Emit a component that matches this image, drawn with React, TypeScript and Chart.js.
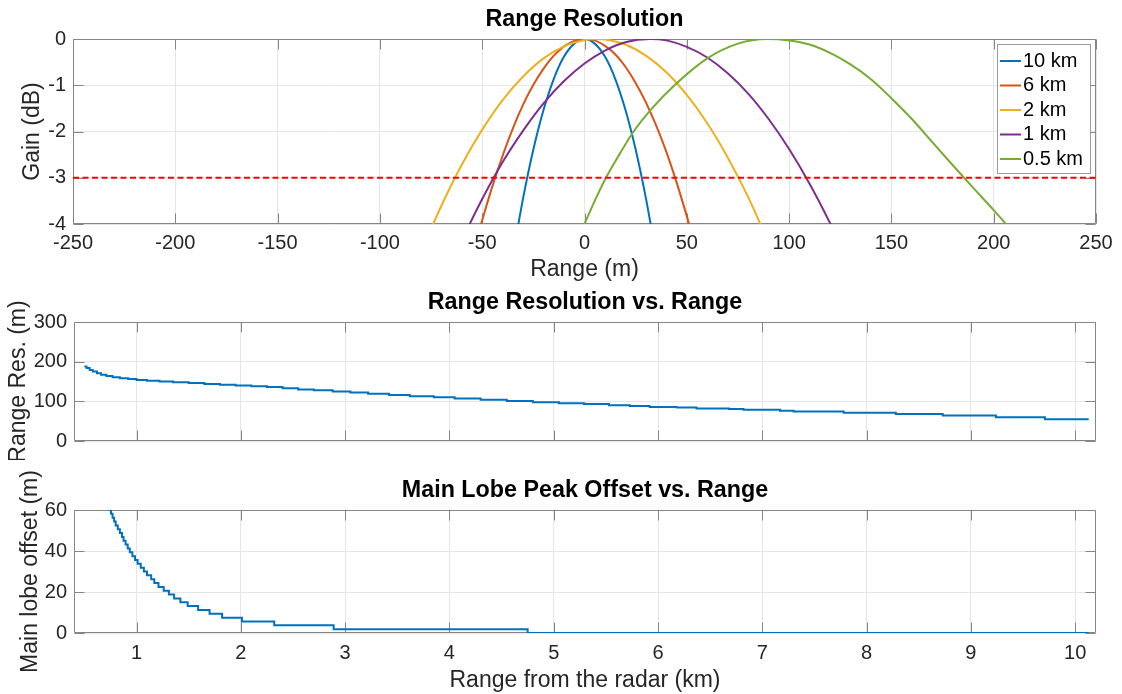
import React, { useEffect, useRef } from 'react';
import { Chart, registerables } from 'chart.js';

Chart.register(...registerables);

const FONT_FAMILY = '"Liberation Sans", Arial, Helvetica, sans-serif';
const TEXT_COLOR = '#262626';
const BOX_COLOR = '#858585';
const GRID_COLOR = '#e6e6e6';
const TICK_LEN = 10;
const PAGE_W = 1122;
const PAGE_H = 694;
const TITLE_SIZE = 23.3;
const LABEL_SIZE = 23;
const TICK_SIZE = 20;
const LEGEND_SIZE = 20;
const LH = 1.2;

Chart.defaults.font.family = FONT_FAMILY;
Chart.defaults.color = TEXT_COLOR;

// ---------- Range Resolution: main-lobe gain vs range offset ----------
const gainTicks = [-4, -3, -2, -1, 0];
const offsetTicks = [-250, -200, -150, -100, -50, 0, 50, 100, 150, 200, 250];
const seriesLabels = ['10 km', '6 km', '2 km', '1 km', '0.5 km'];
const seriesColors = ['#0072bd', '#d95319', '#edb120', '#7e2f8e', '#77ac30'];

const offset10km = [-33, -30, -25, -20, -15, -10, -5, 0, 5, 10, 15, 20, 25, 30, 33];
const gain10km = [-4.17, -3.44, -2.39, -1.53, -0.86, -0.38, -0.1, 0, -0.1, -0.38, -0.86, -1.53, -2.39, -3.44, -4.17];

const offset6km = [-52, -50, -45, -40, -35, -30, -25, -20, -15, -10, -5, 0, 5, 10, 15, 20, 25, 30, 35, 40, 45, 50, 52];
const gain6km = [-4.24, -3.92, -3.18, -2.52, -1.93, -1.42, -0.99, -0.64, -0.36, -0.16, -0.04, 0, -0.03, -0.15, -0.33, -0.6, -0.95, -1.37, -1.87, -2.44, -3.1, -3.83, -4.14];

const offset2km = [-78, -70, -60, -50, -40, -30, -20, -10, 0, 6, 10, 20, 30, 40, 50, 60, 70, 80, 90];
const gain2km = [-4.41, -3.61, -2.72, -1.96, -1.32, -0.81, -0.42, -0.16, -0.02, 0, -0.01, -0.12, -0.36, -0.72, -1.21, -1.82, -2.56, -3.42, -4.41];

const offset1km = [-60, -50, -40, -30, -20, -10, 0, 10, 20, 32, 40, 50, 60, 70, 80, 90, 100, 110, 120, 125];
const gain1km = [-4.35, -3.46, -2.66, -1.98, -1.39, -0.91, -0.53, -0.25, -0.07, 0, -0.03, -0.17, -0.4, -0.74, -1.18, -1.73, -2.38, -3.13, -3.98, -4.45];

const offsetHalfKm = [0, 5, 10.5, 17, 24, 33, 44, 60, 75, 89, 100, 110, 120, 130, 140, 150, 160, 170, 180, 190, 200, 206];
const gainHalfKm = [-4, -3.5, -3, -2.5, -2, -1.5, -1, -0.42, -0.1, 0, -0.03, -0.12, -0.3, -0.55, -0.87, -1.28, -1.73, -2.23, -2.73, -3.22, -3.7, -4];

const thresholdOffset = [-250, 250];
const thresholdGain = [-3, -3];

// ---------- Range Resolution vs. Range ----------
const rangeKmTicks = [1, 2, 3, 4, 5, 6, 7, 8, 9, 10];
const resolutionTicks = [0, 100, 200, 300];
const resolutionRangeKm = [0.5, 0.52, 0.55, 0.58, 0.62, 0.66, 0.71, 0.77, 0.84, 0.92, 1.0, 1.1, 1.22, 1.35, 1.5, 1.65, 1.8, 1.95, 2.1, 2.25, 2.4, 2.55, 2.7, 2.88, 3.05, 3.22, 3.42, 3.62, 3.85, 4.05, 4.3, 4.55, 4.8, 5.05, 5.29, 5.53, 5.73, 5.92, 6.18, 6.37, 6.68, 6.82, 7.17, 7.3, 7.78, 8.28, 8.73, 9.24, 9.71, 10.13];
const resolutionMeters = [188, 184, 179, 175, 171, 167, 164, 161, 158, 156, 154, 152, 150, 148, 146, 144, 142, 140, 138, 136, 133, 130, 128, 125, 122, 119, 116, 113, 110, 107, 104, 101, 98, 95, 93, 90, 88.5, 86, 84.5, 82, 80.5, 79, 76, 74.5, 71.5, 68, 64.5, 60, 55, 55];

// ---------- Main Lobe Peak Offset vs. Range ----------
const peakOffsetTicks = [0, 20, 40, 60];
const peakRangeKm = [0.5, 0.6, 0.7, 0.743, 0.755, 0.77, 0.785, 0.8, 0.82, 0.84, 0.86, 0.875, 0.895, 0.915, 0.935, 0.96, 0.985, 1.01, 1.04, 1.07, 1.1, 1.14, 1.17, 1.21, 1.26, 1.31, 1.36, 1.42, 1.49, 1.59, 1.7, 1.82, 2.01, 2.32, 2.89, 4.75, 10.13];
const peakOffsetMeters = [112, 88, 69, 60, 58.125, 56.25, 54.375, 52.5, 50.625, 48.75, 46.875, 45, 43.125, 41.25, 39.375, 37.5, 35.625, 33.75, 31.875, 30, 28.125, 26.25, 24.375, 22.5, 20.625, 18.75, 16.875, 15, 13.125, 11.25, 9.375, 7.5, 5.625, 3.75, 1.875, 0, 0];

type XY = { x: number; y: number };
const toPoints = (xs: number[], ys: number[]): XY[] => xs.map((x, i) => ({ x, y: ys[i] }));

// Axes box with inward tick marks on all four sides
const axesBoxPlugin = {
  id: 'axesBox',
  beforeDatasetsDraw(chart: any) {
    const { ctx, chartArea } = chart;
    const xs = chart.scales.x;
    const ys = chart.scales.y;
    const L = Math.round(chartArea.left) + 0.5;
    const R = Math.round(chartArea.right) - 0.5;
    const T = Math.round(chartArea.top) + 0.5;
    const B = Math.round(chartArea.bottom) - 0.5;
    ctx.save();
    ctx.strokeStyle = BOX_COLOR;
    ctx.lineWidth = 1;
    ctx.beginPath();
    ctx.moveTo(L, T);
    ctx.lineTo(R, T);
    ctx.lineTo(R, B);
    ctx.lineTo(L, B);
    ctx.closePath();
    for (const t of xs.ticks) {
      const px = Math.round(xs.getPixelForValue(t.value)) + 0.5;
      ctx.moveTo(px, B);
      ctx.lineTo(px, B - TICK_LEN);
      ctx.moveTo(px, T);
      ctx.lineTo(px, T + TICK_LEN);
    }
    for (const t of ys.ticks) {
      const py = Math.round(ys.getPixelForValue(t.value)) + 0.5;
      ctx.moveTo(L, py);
      ctx.lineTo(L + TICK_LEN, py);
      ctx.moveTo(R, py);
      ctx.lineTo(R - TICK_LEN, py);
    }
    ctx.stroke();
    ctx.restore();
  },
};

// Boxed legend placed inside the plot area
const boxLegendPlugin = {
  id: 'boxLegend',
  afterDatasetsDraw(chart: any, _args: any, opts: any) {
    if (!opts || !opts.display) return;
    const { ctx } = chart;
    const entries = chart.data.datasets.filter((d: any) => opts.labels.includes(d.label));
    ctx.save();
    ctx.fillStyle = '#ffffff';
    ctx.fillRect(opts.left, opts.top, opts.width, opts.height);
    ctx.strokeStyle = opts.borderColor;
    ctx.lineWidth = 1;
    ctx.strokeRect(opts.left + 0.5, opts.top + 0.5, opts.width, opts.height);
    ctx.font = `${LEGEND_SIZE}px ${FONT_FAMILY}`;
    ctx.textBaseline = 'middle';
    ctx.textAlign = 'left';
    entries.forEach((d: any, i: number) => {
      const cy = opts.top + opts.firstRow + i * opts.rowGap;
      ctx.strokeStyle = d.borderColor;
      ctx.lineWidth = 2;
      ctx.beginPath();
      ctx.moveTo(opts.left + opts.sampleStart, cy);
      ctx.lineTo(opts.left + opts.sampleEnd, cy);
      ctx.stroke();
      ctx.fillStyle = '#000000';
      ctx.fillText(d.label, opts.left + opts.textX, cy);
    });
    ctx.restore();
  },
};

interface PanelLayout {
  canvasTop: number;
  canvasHeight: number;
  plotLeft: number;
  plotRight: number;
  plotTop: number;
  plotBottom: number;
  titleCenter: number;
  xLabelCenter: number;
  xTitleCenter: number;
  yLabelRight: number;
  yTitleCenter: number;
}

interface PanelSpec {
  layout: PanelLayout;
  title: string;
  xMin: number;
  xMax: number;
  xTicks: number[];
  xLabels: boolean;
  xTitle?: string;
  yMin: number;
  yMax: number;
  yTicks: number[];
  yTitle: string;
  datasets: any[];
  legend?: any;
}

function buildConfig(p: PanelSpec): any {
  const L = p.layout;
  const titleHalf = (TITLE_SIZE * LH) / 2;
  const labelHalf = (LABEL_SIZE * LH) / 2;
  const tickHalf = (TICK_SIZE * LH) / 2;
  const nn = (v: number) => Math.max(0, v);
  return {
    type: 'line',
    data: { datasets: p.datasets },
    plugins: [axesBoxPlugin, boxLegendPlugin],
    options: {
      responsive: false,
      maintainAspectRatio: false,
      animation: false,
      devicePixelRatio: 1,
      events: [],
      parsing: false,
      layout: {
        autoPadding: false,
        padding: { left: 0, top: 0, bottom: 0, right: PAGE_W - L.plotRight },
      },
      elements: { point: { radius: 0 }, line: { borderWidth: 2 } },
      plugins: {
        legend: { display: false },
        tooltip: { enabled: false },
        title: {
          display: true,
          fullSize: false,
          text: p.title,
          color: '#000000',
          font: { size: TITLE_SIZE, weight: 'bold', lineHeight: LH },
          padding: {
            top: nn(L.titleCenter - titleHalf),
            bottom: nn(L.plotTop - L.titleCenter - titleHalf),
          },
        },
        boxLegend: p.legend ?? { display: false },
      },
      scales: {
        x: {
          type: 'linear',
          min: p.xMin,
          max: p.xMax,
          afterBuildTicks: (s: any) => {
            s.ticks = p.xTicks.map((value) => ({ value }));
          },
          afterFit: (s: any) => {
            s.height = L.canvasHeight - L.plotBottom;
          },
          grid: { color: GRID_COLOR, drawTicks: false },
          border: { display: false },
          ticks: {
            display: p.xLabels,
            autoSkip: false,
            maxRotation: 0,
            color: TEXT_COLOR,
            padding: nn(L.xLabelCenter - L.plotBottom - tickHalf),
            font: { size: TICK_SIZE, lineHeight: LH },
          },
          title: p.xTitle
            ? {
                display: true,
                text: p.xTitle,
                color: TEXT_COLOR,
                font: { size: LABEL_SIZE, lineHeight: LH },
                padding: { top: 0, bottom: nn(L.canvasHeight - L.xTitleCenter - labelHalf) },
              }
            : { display: false },
        },
        y: {
          type: 'linear',
          min: p.yMin,
          max: p.yMax,
          afterBuildTicks: (s: any) => {
            s.ticks = p.yTicks.map((value) => ({ value }));
          },
          afterFit: (s: any) => {
            s.width = L.plotLeft;
          },
          grid: { color: GRID_COLOR, drawTicks: false },
          border: { display: false },
          ticks: {
            autoSkip: false,
            color: TEXT_COLOR,
            padding: L.plotLeft - L.yLabelRight,
            font: { size: TICK_SIZE, lineHeight: LH },
          },
          title: {
            display: true,
            text: p.yTitle,
            color: TEXT_COLOR,
            font: { size: LABEL_SIZE, lineHeight: LH },
            padding: { top: nn(L.yTitleCenter - labelHalf), bottom: 0 },
          },
        },
      },
    },
  };
}

const gainCurves = [
  toPoints(offset10km, gain10km),
  toPoints(offset6km, gain6km),
  toPoints(offset2km, gain2km),
  toPoints(offset1km, gain1km),
  toPoints(offsetHalfKm, gainHalfKm),
];

const gainPanel: PanelSpec = {
  layout: {
    canvasTop: 0,
    canvasHeight: 290,
    plotLeft: 73,
    plotRight: 1096,
    plotTop: 39,
    plotBottom: 224,
    titleCenter: 19.5,
    xLabelCenter: 243,
    xTitleCenter: 270,
    yLabelRight: 66,
    yTitleCenter: 33,
  },
  title: 'Range Resolution',
  xMin: -250,
  xMax: 250,
  xTicks: offsetTicks,
  xLabels: true,
  xTitle: 'Range (m)',
  yMin: -4,
  yMax: 0,
  yTicks: gainTicks,
  yTitle: 'Gain (dB)',
  datasets: [
    ...gainCurves.map((data, i) => ({
      label: seriesLabels[i],
      data,
      borderColor: seriesColors[i],
      backgroundColor: seriesColors[i],
      borderWidth: 2,
      pointRadius: 0,
      cubicInterpolationMode: 'monotone',
      order: 10 - i,
    })),
    {
      label: '-3 dB',
      data: toPoints(thresholdOffset, thresholdGain),
      borderColor: '#ff0000',
      borderWidth: 2,
      borderDash: [6, 3.5],
      pointRadius: 0,
      order: 0,
    },
  ],
  legend: {
    display: true,
    labels: seriesLabels,
    left: 997,
    top: 44,
    width: 93,
    height: 129,
    firstRow: 17,
    rowGap: 24.5,
    sampleStart: 3,
    sampleEnd: 24,
    textX: 26,
    borderColor: '#9a9a9a',
  },
};

const resolutionPanel: PanelSpec = {
  layout: {
    canvasTop: 280,
    canvasHeight: 180,
    plotLeft: 74,
    plotRight: 1096,
    plotTop: 42,
    plotBottom: 164,
    titleCenter: 22.5,
    xLabelCenter: 180,
    xTitleCenter: 180,
    yLabelRight: 67,
    yTitleCenter: 19,
  },
  title: 'Range Resolution vs. Range',
  xMin: 0.4,
  xMax: 10.2,
  xTicks: rangeKmTicks,
  xLabels: false,
  yMin: 0,
  yMax: 300,
  yTicks: resolutionTicks,
  yTitle: 'Range Res. (m)',
  datasets: [
    {
      label: 'Range resolution',
      data: toPoints(resolutionRangeKm, resolutionMeters),
      borderColor: '#0072bd',
      borderWidth: 2,
      pointRadius: 0,
      stepped: 'before',
    },
  ],
};

const peakPanel: PanelSpec = {
  layout: {
    canvasTop: 460,
    canvasHeight: PAGE_H - 460,
    plotLeft: 74,
    plotRight: 1096,
    plotTop: 50,
    plotBottom: 173,
    titleCenter: 30.5,
    xLabelCenter: 193,
    xTitleCenter: 221,
    yLabelRight: 67,
    yTitleCenter: 31,
  },
  title: 'Main Lobe Peak Offset vs. Range',
  xMin: 0.4,
  xMax: 10.2,
  xTicks: rangeKmTicks,
  xLabels: true,
  xTitle: 'Range from the radar (km)',
  yMin: 0,
  yMax: 60,
  yTicks: peakOffsetTicks,
  yTitle: 'Main lobe offset (m)',
  datasets: [
    {
      label: 'Main lobe offset',
      data: toPoints(peakRangeKm, peakOffsetMeters),
      borderColor: '#0072bd',
      borderWidth: 2,
      pointRadius: 0,
      stepped: 'before',
    },
  ],
};

function Panel({ spec }: { spec: PanelSpec }) {
  const ref = useRef<HTMLCanvasElement>(null);
  useEffect(() => {
    if (!ref.current) return;
    const chart = new Chart(ref.current, buildConfig(spec));
    return () => chart.destroy();
  }, [spec]);
  const { canvasTop, canvasHeight } = spec.layout;
  return (
    <canvas
      ref={ref}
      width={PAGE_W}
      height={canvasHeight}
      style={{ position: 'absolute', left: 0, top: canvasTop, width: PAGE_W, height: canvasHeight }}
    />
  );
}

export default function App() {
  return (
    <div
      style={{
        position: 'absolute',
        left: 0,
        top: 0,
        width: PAGE_W,
        height: PAGE_H,
        background: '#ffffff',
        overflow: 'hidden',
      }}
    >
      <Panel spec={gainPanel} />
      <Panel spec={resolutionPanel} />
      <Panel spec={peakPanel} />
    </div>
  );
}
